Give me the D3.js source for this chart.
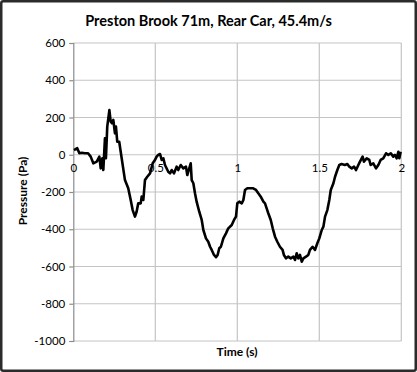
<!DOCTYPE html>
<html>
<head>
<meta charset="utf-8">
<script src="https://cdn.jsdelivr.net/npm/d3@7"></script>
<style>
  body { margin: 0; background: #fff; }
  svg { display: block; font-family: Lato, "Open Sans", sans-serif; }
</style>
</head>
<body>
<svg width="417" height="372"></svg>
<script>
// chart data
var title = 'Preston Brook 71m, Rear Car, 45.4m/s';
var xTicks = [0, 0.5, 1, 1.5, 2];
var yTicks = [600, 400, 200, 0, -200, -400, -600, -800, -1000];

var time = [
  0.004, 0.024, 0.037, 0.051, 0.071, 0.09, 0.106, 0.122, 0.143, 0.159, 0.167, 0.177, 0.183,
  0.193, 0.199, 0.207, 0.22, 0.228, 0.236, 0.244, 0.254, 0.26, 0.268, 0.28, 0.295, 0.315,
  0.335, 0.35, 0.362, 0.376, 0.386, 0.396, 0.411, 0.417, 0.427, 0.437, 0.451, 0.468, 0.484,
  0.498, 0.508, 0.518, 0.529, 0.539, 0.549, 0.559, 0.579, 0.59, 0.6, 0.614, 0.63, 0.64,
  0.655, 0.671, 0.687, 0.695, 0.707, 0.716, 0.722, 0.732, 0.742, 0.752, 0.768, 0.783, 0.793,
  0.809, 0.823, 0.834, 0.844, 0.858, 0.87, 0.88, 0.89, 0.9, 0.915, 0.931, 0.945, 0.966,
  0.98, 0.992, 1.0, 1.012, 1.027, 1.037, 1.047, 1.061, 1.077, 1.097, 1.114, 1.128, 1.143,
  1.159, 1.169, 1.179, 1.189, 1.204, 1.216, 1.23, 1.244, 1.26, 1.276, 1.284, 1.297, 1.311,
  1.326, 1.342, 1.352, 1.362, 1.372, 1.382, 1.393, 1.403, 1.419, 1.433, 1.443, 1.459, 1.474,
  1.488, 1.5, 1.515, 1.525, 1.535, 1.549, 1.561, 1.57, 1.586, 1.596, 1.61, 1.622, 1.636,
  1.656, 1.671, 1.683, 1.698, 1.712, 1.724, 1.738, 1.748, 1.764, 1.772, 1.789, 1.805, 1.813,
  1.829, 1.846, 1.86, 1.874, 1.89, 1.907, 1.921, 1.936, 1.951, 1.961, 1.972, 1.982, 1.988,
  1.996
];
var pressure = [
  25, 35, 8, 11, 8, 8, -10, -46, -37, -10, -73, -19, -82,
  88, -19, 151, 240, 178, 169, 187, 115, 151, 70, 70, -19, -136,
  -180, -243, -297, -332, -306, -261, -261, -225, -243, -136, -118, -100, -46,
  -28, -10, -1, 4, -28, -19, -55, -91, -100, -82, -100, -64, -82,
  -55, -73, -64, -109, -73, -46, -136, -153, -207, -252, -306, -350, -404,
  -449, -467, -494, -511, -538, -550, -538, -502, -494, -449, -422, -395, -377,
  -350, -332, -261, -252, -261, -243, -189, -180, -180, -180, -189, -207, -225,
  -252, -261, -288, -314, -350, -395, -440, -467, -494, -511, -538, -556, -547,
  -556, -547, -565, -529, -556, -538, -574, -556, -547, -538, -511, -494, -511,
  -475, -449, -404, -386, -332, -297, -243, -189, -153, -118, -82, -55, -50,
  -55, -50, -64, -73, -64, -82, -55, -37, -10, -37, -19, -28, -55,
  -46, -73, -55, -28, -19, 8, -1, 8, -10, -1, -19, 16, -19,
  16
];

var series = time.map(function(t, i) { return {t: t, p: pressure[i]}; });

var svg = d3.select('svg');

// plot area
var plotLeft = 73.3, plotRight = 401.3, plotTop = 43, plotBottom = 341;

var x = d3.scaleLinear().domain([0, 2]).range([plotLeft, plotRight]);
var y = d3.scaleLinear().domain([-1000, 600]).range([plotBottom, plotTop]);

// outer frame
svg.append('rect')
    .attr('x', 1.25).attr('y', 1.25)
    .attr('width', 414.5).attr('height', 369.5)
    .attr('rx', 2)
    .style('fill', '#fff')
    .style('stroke', '#2b2b2b')
    .style('stroke-width', 2.5);

// gridlines
var grid = svg.append('g').classed('grid', true);

grid.selectAll('.hgrid')
    .data(yTicks)
    .enter().append('line')
    .attr('x1', plotLeft).attr('x2', plotRight)
    .attr('y1', d => y(d)).attr('y2', d => y(d))
    .style('stroke', '#c4c4c4')
    .style('stroke-width', 1.2);

grid.selectAll('.vgrid')
    .data(xTicks.slice(1))
    .enter().append('line')
    .attr('x1', d => x(d)).attr('x2', d => x(d))
    .attr('y1', plotTop).attr('y2', plotBottom)
    .style('stroke', '#c4c4c4')
    .style('stroke-width', 1.2);

// y axis
var yAxis = svg.append('g')
    .attr('transform', 'translate(' + plotLeft + ',0)')
    .call(d3.axisLeft(y).tickValues(yTicks).tickFormat(d => String(d)).tickSize(4).tickPadding(4));

yAxis.select('.domain').style('stroke', '#8c8c8c').style('stroke-width', 1.2);
yAxis.selectAll('.tick line').style('stroke', '#8c8c8c').style('stroke-width', 1.2);
yAxis.selectAll('text')
    .style('font-size', '11.5px')
    .style('fill', '#000')
    .style('font-family', 'Lato, sans-serif');

// x axis crosses at zero, labels only
var xAxis = svg.append('g')
    .attr('transform', 'translate(0,' + y(0) + ')')
    .call(d3.axisBottom(x).tickValues(xTicks).tickFormat(d => String(d)).tickSize(0).tickPadding(9));

xAxis.select('.domain').remove();
xAxis.selectAll('text')
    .style('font-size', '11.5px')
    .style('fill', '#000')
    .style('font-family', 'Lato, sans-serif');

// the trace
var line = d3.line()
    .x(d => x(d.t))
    .y(d => y(d.p));

svg.append('path')
    .datum(series)
    .attr('d', line)
    .style('fill', 'none')
    .style('stroke', '#000')
    .style('stroke-width', 2.6)
    .style('stroke-linejoin', 'round');

// titles
svg.append('text')
    .attr('x', 208.5).attr('y', 26)
    .attr('text-anchor', 'middle')
    .style('font-size', '14.5px')
    .style('font-weight', 'bold')
    .text(title);

svg.append('text')
    .attr('x', 237).attr('y', 356)
    .attr('text-anchor', 'middle')
    .style('font-size', '12px')
    .style('font-weight', 'bold')
    .text('Time (s)');

svg.append('text')
    .attr('transform', 'translate(27,191) rotate(-90)')
    .attr('text-anchor', 'middle')
    .style('font-size', '12px')
    .style('font-weight', 'bold')
    .text('Pressure (Pa)');
</script>
</body>
</html>
